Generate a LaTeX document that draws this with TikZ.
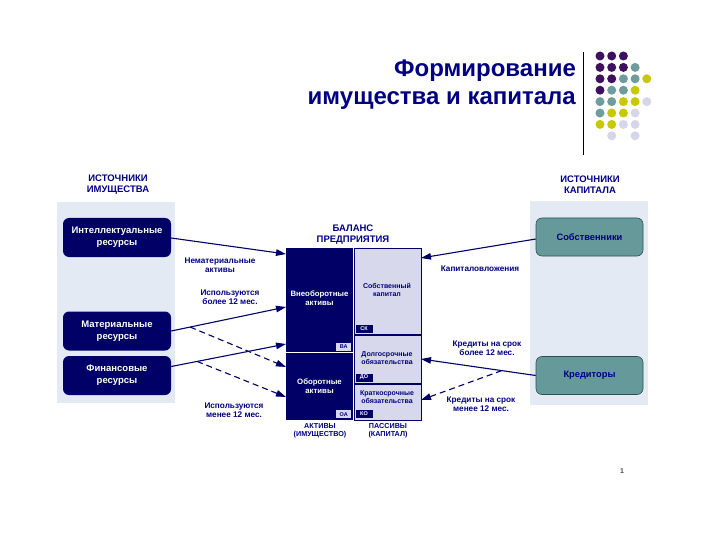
\documentclass[tikz,border=0pt]{standalone}
\usepackage{fontspec}
\setmainfont{Liberation Sans}
\usetikzlibrary{arrows.meta}
\definecolor{navy}{HTML}{000066}
\definecolor{txtnavy}{HTML}{000080}
\definecolor{bgblue}{HTML}{E4EAF4}
\definecolor{lav}{HTML}{D8D8EC}
\definecolor{teal}{HTML}{669999}
\definecolor{tealdark}{HTML}{2F5050}
\definecolor{dpurple}{HTML}{401060}
\definecolor{dteal}{HTML}{6E9B9B}
\definecolor{dyellow}{HTML}{C8C800}
\definecolor{dlav}{HTML}{D6D6EA}
\tikzset{
  srcbox/.style={rectangle, rounded corners=6pt, fill=navy, text=white, font=\fontsize{9.5}{12}\selectfont\bfseries, align=center, minimum width=108pt, minimum height=39pt, inner sep=0pt},
  capbox/.style={rectangle, rounded corners=6pt, fill=teal, draw=tealdark, line width=0.6pt, text=txtnavy, font=\fontsize{9.3}{11}\selectfont\bfseries, align=center, minimum width=107pt, minimum height=38pt, inner sep=0pt},
  head/.style={font=\fontsize{9.5}{11}\selectfont\bfseries, text=txtnavy, align=center, inner sep=0pt},
  lbl/.style={font=\fontsize{8.2}{9}\selectfont\bfseries, text=txtnavy, align=center, inner sep=0pt},
  darkcell/.style={rectangle, fill=navy, inner sep=0pt},
  lightcell/.style={rectangle, fill=lav, draw=navy, line width=0.8pt, inner sep=0pt},
  celltext/.style={font=\fontsize{7}{8.5}\selectfont\bfseries, text=txtnavy, align=center, inner sep=0pt},
  whitetext/.style={font=\fontsize{7.8}{9.5}\selectfont\bfseries, text=white, align=center, inner sep=0pt},
  tagdark/.style={rectangle, fill=navy, text=white, font=\fontsize{5.5}{5.5}\selectfont\bfseries, minimum width=17pt, minimum height=8pt, inner sep=0pt},
  taglight/.style={rectangle, fill=lav, text=txtnavy, font=\fontsize{5.5}{5.5}\selectfont\bfseries, minimum width=15pt, minimum height=7.5pt, inner sep=0pt},
  arr/.style={draw=navy, line width=1.1pt, -{Triangle[length=10pt,width=6.5pt]}},
  darr/.style={arr, dash pattern=on 6pt off 4pt},
  dot/.style={circle, minimum size=9pt, inner sep=0pt},
}
\begin{document}
\begin{tikzpicture}[x=1pt,y=-1pt]
\useasboundingbox (0,0) rectangle (720,540);
\fill[white] (0,0) rectangle (720,540);

% title
\node[anchor=base east, font=\fontsize{24}{28}\selectfont\bfseries, text=txtnavy, inner sep=0pt] (t1) at (576,77) {Формирование};
\node[anchor=base east, font=\fontsize{24}{28}\selectfont\bfseries, text=txtnavy, inner sep=0pt] (t2) at (576,105) {имущества и капитала};
\draw[black, line width=0.8pt] (583,52) -- (583,155);

% dots
\foreach \c/\r/\col in {0/0/dpurple,1/0/dpurple,2/0/dpurple,
  0/1/dpurple,1/1/dpurple,2/1/dpurple,3/1/dteal,
  0/2/dpurple,1/2/dpurple,2/2/dteal,3/2/dteal,4/2/dyellow,
  0/3/dpurple,1/3/dteal,2/3/dteal,3/3/dyellow,
  0/4/dteal,1/4/dteal,2/4/dyellow,3/4/dyellow,4/4/dlav,
  0/5/dteal,1/5/dyellow,2/5/dyellow,3/5/dlav,
  0/6/dyellow,1/6/dyellow,2/6/dlav,3/6/dlav,
  1/7/dlav,3/7/dlav}{
  \node[dot, fill=\col] (d\c\r) at ({600+11.7*\c},{56+11.4*\r}) {};
}

% left and right backgrounds
\fill[bgblue] (57,202) rectangle (175,403);
\fill[bgblue] (530,201) rectangle (648,405);
\node[head] (hl) at (118,184.5) {ИСТОЧНИКИ\\ИМУЩЕСТВА};
\node[head] (hr) at (590,184.5) {ИСТОЧНИКИ\\КАПИТАЛА};

\node[srcbox] (intel) at (117,237.5) {Интеллектуальные\\ресурсы};
\node[srcbox] (mat) at (117,331) {Материальные\\ресурсы};
\node[srcbox] (fin) at (117,375.5) {Финансовые\\ресурсы};

\node[capbox] (sob) at (589.5,237) {Собственники};
\node[capbox] (kred) at (589.5,375.5) {Кредиторы};

% balance
\node[head] (bal) at (353,234.5) {БАЛАНС\\ПРЕДПРИЯТИЯ};
\node[darkcell, minimum width=67pt, minimum height=103.5pt] (VA) at (319.5,299.75) {};
\node[darkcell, minimum width=67pt, minimum height=67.5pt] (OA) at (319.5,386.25) {};
\node[lightcell, minimum width=67pt, minimum height=86.5pt] (SK) at (387.5,291.25) {};
\node[lightcell, minimum width=67pt, minimum height=48.5pt] (DO) at (387.5,359.25) {};
\node[lightcell, minimum width=67pt, minimum height=36pt] (KO) at (387.5,402) {};

\node[whitetext] (vat) at (319.5,298) {Внеоборотные\\активы};
\node[whitetext] (oat) at (319.5,386) {Оборотные\\активы};
\node[celltext] (skt) at (387,290) {Собственный\\капитал};
\node[celltext] (dot1) at (387,358) {Долгосрочные\\обязательства};
\node[celltext] (kot) at (387,397) {Краткосрочные\\обязательства};

\node[taglight] (tva) at (343.8,347) {ВА};
\node[taglight] (toa) at (343.8,414.2) {ОА};
\node[tagdark] (tsk) at (364,329) {СК};
\node[tagdark] (tdo) at (364,377.5) {ДО};
\node[tagdark] (tko) at (364,414) {КО};

\node[celltext, font=\fontsize{7.2}{8}\selectfont\bfseries] (ak) at (320,431) {АКТИВЫ\\(ИМУЩЕСТВО)};
\node[celltext, font=\fontsize{7.2}{8}\selectfont\bfseries] (pa) at (388,431) {ПАССИВЫ\\(КАПИТАЛ)};

% arrow targets
\coordinate (e1) at (286,254);
\coordinate (e2) at (286,307);
\coordinate (e3) at (286,344);
\coordinate (e4) at (286,367);
\coordinate (e5) at (286,397);
\coordinate (f1) at (421,258);
\coordinate (f2) at (421,359);
\coordinate (f3) at (421,400);

\draw[arr] (intel.east |- 0,238) -- (e1);
\draw[arr] (mat.east) -- (e2) coordinate[pos=0.165] (s1);
\draw[arr] (fin.east |- 0,366.5) -- (e3) coordinate[pos=0.226] (s2);
\draw[darr] (s1) -- (e4);
\draw[darr] (s2) -- (e5);
\draw[arr] (sob.west |- 0,239) -- (f1);
\draw[arr] (kred.west) -- (f2) coordinate[pos=0.296] (s3);
\draw[darr] (s3) -- (f3);

\node[lbl] (l1) at (220,265) {Нематериальные\\активы};
\node[lbl] (l2) at (230,297.5) {Используются\\более 12 мес.};
\node[lbl] (l3) at (234,410.5) {Используются\\менее 12 мес.};
\node[lbl] (l4) at (480,269) {Капиталовложения};
\node[lbl] (l5) at (487,348) {Кредиты на срок\\более 12 мес.};
\node[lbl] (l6) at (481,404) {Кредиты на срок\\менее 12 мес.};

\node[font=\fontsize{7}{8}\selectfont\bfseries, text=black!70, inner sep=0pt] (pg) at (622,471) {1};
\end{tikzpicture}
\end{document}
